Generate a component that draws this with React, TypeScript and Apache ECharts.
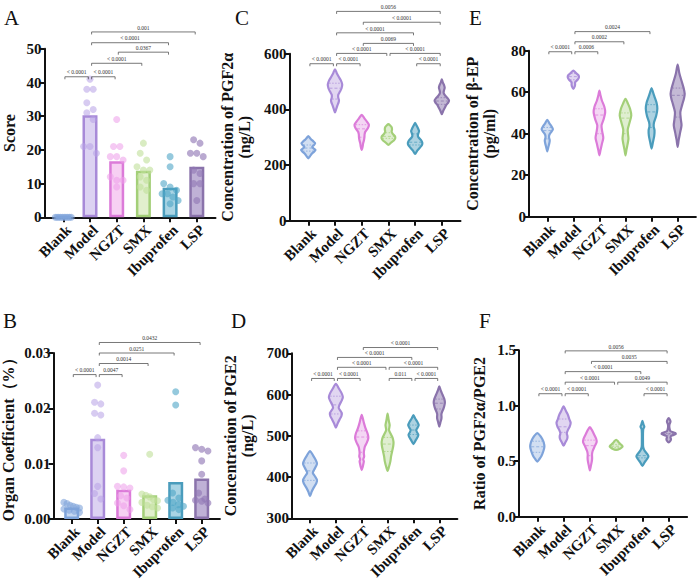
import React, { useEffect, useRef } from "react";
import * as echarts from "echarts";

const groups = ["Blank", "Model", "NGZT", "SMX", "Ibuprofen", "LSP"];

// ---------- Panel A: Score ----------
const scoreMeans = [0, 30.3, 16.6, 13.8, 8.8, 15.0];
const scorePoints = [
  [0, 0, 0, 0, 0, 0, 0, 0, 0, 0],
  [41, 38, 38, 34, 32, 31, 29, 21, 21, 19],
  [29, 21, 21, 18, 18, 17, 12, 11, 11, 9],
  [22, 19, 17, 15, 14, 14, 12, 11, 9, 8],
  [18, 15, 10, 9, 8, 7, 7, 6, 5, 4],
  [23, 22, 19, 19, 18, 14, 13, 10, 10, 5],
];
const scoreBrackets = [[0, 1, 41.7], [1, 2, 41.7], [1, 3, 45.7], [2, 4, 49.0], [1, 4, 51.8], [1, 5, 55.0]];
const scoreBracketLabels = ["< 0.0001", "< 0.0001", "< 0.0001", "0.0367", "< 0.0001", "0.001"];

// ---------- Panel B: Organ coefficient ----------
const organMeans = [0.0021, 0.0145, 0.0053, 0.0043, 0.0067, 0.0073];
const organPoints = [
  [0.003, 0.0028, 0.0025, 0.0023, 0.0021, 0.002, 0.0018, 0.0016, 0.0014, 0.0012],
  [0.0242, 0.0211, 0.0208, 0.0191, 0.0188, 0.0147, 0.0129, 0.0059, 0.0046, 0.0036],
  [0.0115, 0.0087, 0.0059, 0.0058, 0.0056, 0.0042, 0.0038, 0.0029, 0.0024, 0.0017],
  [0.0117, 0.0045, 0.0043, 0.004, 0.0035, 0.0033, 0.003, 0.0025, 0.0022, 0.002],
  [0.023, 0.0206, 0.0047, 0.0038, 0.0034, 0.003, 0.0026, 0.0023, 0.002, 0.0017],
  [0.0129, 0.0126, 0.0123, 0.0105, 0.0081, 0.0047, 0.0036, 0.0034, 0.0032, 0.0029],
];
const organBrackets = [[0, 1, 0.0261], [1, 2, 0.0261], [1, 3, 0.0281], [1, 4, 0.03], [1, 5, 0.0319]];
const organBracketLabels = ["< 0.0001", "0.0047", "0.0014", "0.0251", "0.0432"];

// ---------- Panel C: PGF2α (violin profiles: [value, relative density]) ----------
const pgf2aProfiles = [
  [[224, 0], [232, 0.25], [240, 0.45], [248, 0.8], [254, 1.0], [260, 0.7], [266, 0.55], [272, 0.8], [278, 0.95], [285, 0.7], [292, 0.4], [298, 0.2], [304, 0]],
  [[389, 0], [400, 0.15], [415, 0.35], [425, 0.5], [433, 0.55], [442, 0.45], [452, 0.45], [462, 0.65], [475, 0.9], [490, 1.0], [505, 0.8], [518, 0.5], [530, 0.25], [544, 0]],
  [[254, 0], [265, 0.12], [278, 0.2], [290, 0.32], [300, 0.38], [310, 0.4], [320, 0.5], [332, 0.85], [344, 1.0], [355, 0.75], [367, 0.4], [380, 0]],
  [[272, 0], [280, 0.35], [288, 0.75], [296, 0.95], [304, 0.9], [312, 0.6], [320, 0.45], [328, 0.5], [336, 0.45], [342, 0.25], [347, 0]],
  [[240, 0], [252, 0.3], [262, 0.65], [272, 0.95], [280, 1.0], [290, 0.8], [300, 0.45], [306, 0.38], [314, 0.45], [322, 0.55], [332, 0.4], [342, 0.2], [352, 0]],
  [[383, 0], [395, 0.2], [405, 0.4], [415, 0.6], [425, 0.9], [432, 1.0], [440, 0.8], [450, 0.45], [460, 0.25], [468, 0.3], [478, 0.4], [488, 0.3], [498, 0.12], [508, 0]],
];
const pgf2aQuartiles = [[250, 261, 272], [437, 476, 494], [300, 330, 345], [296, 303, 316], [272, 282, 312], [418, 430, 442]];
const pgf2aBrackets = [[0, 1, 564], [1, 2, 564], [4, 5, 564], [1, 3, 601], [3, 5, 601], [2, 4, 637], [1, 4, 675], [2, 5, 713], [1, 5, 752]];
const pgf2aBracketLabels = ["< 0.0001", "< 0.0001", "< 0.0001", "< 0.0001", "< 0.0001", "0.0069", "< 0.0001", "< 0.0001", "0.0056"];

// ---------- Panel D: PGE2 ----------
const pge2Profiles = [
  [[354, 0], [365, 0.25], [375, 0.55], [385, 0.9], [393, 1.0], [402, 0.7], [410, 0.4], [418, 0.6], [426, 0.85], [433, 1.0], [442, 0.8], [452, 0.45], [463, 0]],
  [[520, 0], [530, 0.25], [540, 0.55], [548, 0.8], [555, 0.85], [562, 0.6], [568, 0.4], [576, 0.55], [586, 0.85], [594, 1.0], [604, 0.8], [614, 0.45], [626, 0]],
  [[417, 0], [425, 0.15], [433, 0.25], [438, 0.3], [443, 0.22], [450, 0.35], [458, 0.3], [466, 0.35], [474, 0.45], [484, 0.75], [495, 0.95], [505, 0.85], [518, 0.55], [532, 0.3], [551, 0]],
  [[415, 0], [425, 0.2], [438, 0.4], [450, 0.5], [462, 0.65], [474, 0.8], [485, 0.85], [496, 0.7], [506, 0.4], [514, 0.2], [520, 0.25], [526, 0.3], [533, 0.22], [542, 0.12], [554, 0]],
  [[480, 0], [490, 0.35], [497, 0.6], [503, 0.7], [509, 0.5], [514, 0.4], [520, 0.6], [526, 0.75], [534, 0.55], [542, 0.25], [550, 0]],
  [[522, 0], [532, 0.15], [541, 0.3], [546, 0.32], [552, 0.3], [558, 0.4], [566, 0.6], [575, 0.75], [582, 0.8], [590, 0.7], [600, 0.45], [610, 0.2], [620, 0]],
];
const pge2Quartiles = [[392, 415, 434], [553, 575, 596], [460, 497, 512], [462, 480, 496], [503, 514, 526], [565, 579, 589]];
const pge2Brackets = [[0, 1, 639], [1, 2, 639], [3, 4, 639], [4, 5, 639], [1, 3, 666], [3, 5, 666], [1, 4, 690], [2, 5, 714]];
const pge2BracketLabels = ["< 0.0001", "< 0.0001", "0.011", "< 0.0001", "< 0.0001", "< 0.0001", "< 0.0001", "< 0.0001"];

// ---------- Panel E: β-EP ----------
const bepProfiles = [
  [[31.5, 0], [33.5, 0.15], [35.5, 0.3], [36.8, 0.35], [38.2, 0.25], [39.5, 0.3], [41, 0.6], [42.2, 0.8], [43.5, 0.6], [45, 0.3], [46.7, 0]],
  [[61.6, 0], [62.8, 0.2], [63.8, 0.25], [64.8, 0.25], [66, 0.6], [67.3, 0.8], [68.3, 0.7], [69.3, 0.35], [70.4, 0]],
  [[29.6, 0], [32, 0.15], [35, 0.35], [38, 0.55], [41, 0.4], [44, 0.3], [47, 0.6], [50.4, 0.82], [53, 0.7], [56, 0.35], [58.5, 0.15], [60.8, 0]],
  [[29.6, 0], [32.5, 0.15], [35, 0.3], [37.6, 0.42], [40, 0.35], [42, 0.32], [45, 0.55], [48.8, 0.82], [52, 0.65], [54.5, 0.35], [56.8, 0]],
  [[32.8, 0], [36, 0.2], [39, 0.38], [41.6, 0.42], [43.5, 0.3], [45.5, 0.35], [48.5, 0.65], [52, 0.82], [55, 0.7], [58, 0.4], [60, 0.2], [62, 0]],
  [[33.6, 0], [37, 0.15], [40.5, 0.35], [44, 0.55], [47, 0.45], [50.4, 0.38], [54, 0.65], [57, 0.9], [59.2, 1.0], [62, 0.85], [65.5, 0.55], [69, 0.25], [73.3, 0]],
];
const bepQuartiles = [[37.5, 41.5, 43], [66, 67.5, 69], [40, 49, 52], [40, 47.5, 50], [43, 50.5, 54], [48, 58.5, 62]];
const bepBrackets = [[0, 1, 79.5], [1, 2, 79.5], [1, 3, 84.3], [1, 4, 89.2]];
const bepBracketLabels = ["< 0.0001", "0.0006", "0.0002", "0.0024"];

// ---------- Panel F: PGF2α/PGE2 ratio ----------
const ratioProfiles = [
  [[0.497, 0], [0.52, 0.3], [0.55, 0.6], [0.59, 0.85], [0.63, 1.0], [0.67, 0.9], [0.7, 0.7], [0.73, 0.4], [0.753, 0]],
  [[0.639, 0], [0.67, 0.25], [0.7, 0.5], [0.725, 0.55], [0.75, 0.45], [0.78, 0.6], [0.81, 0.85], [0.845, 1.0], [0.88, 0.8], [0.92, 0.6], [0.95, 0.35], [0.994, 0]],
  [[0.416, 0], [0.46, 0.15], [0.5, 0.28], [0.53, 0.32], [0.56, 0.3], [0.59, 0.38], [0.63, 0.65], [0.67, 0.95], [0.7, 0.9], [0.74, 0.6], [0.78, 0.3], [0.807, 0]],
  [[0.602, 0], [0.615, 0.6], [0.63, 0.9], [0.64, 0.85], [0.655, 0.6], [0.67, 0.35], [0.68, 0.25], [0.693, 0]],
  [[0.458, 0], [0.49, 0.3], [0.52, 0.65], [0.545, 0.85], [0.57, 0.6], [0.6, 0.25], [0.63, 0.1], [0.68, 0.08], [0.75, 0.08], [0.79, 0.12], [0.81, 0.27], [0.83, 0.15], [0.864, 0]],
  [[0.669, 0], [0.685, 0.25], [0.7, 0.32], [0.715, 0.25], [0.73, 0.4], [0.745, 1.0], [0.755, 0.9], [0.77, 0.25], [0.8, 0.1], [0.83, 0.1], [0.855, 0.25], [0.875, 0.15], [0.889, 0]],
];
const ratioQuartiles = [[0.58, 0.63, 0.68], [0.76, 0.81, 0.88], [0.55, 0.64, 0.69], [0.625, 0.635, 0.65], [0.53, 0.55, 0.62], [0.73, 0.745, 0.75]];
const ratioBrackets = [[0, 1, 1.108], [1, 2, 1.108], [4, 5, 1.108], [1, 3, 1.212], [3, 5, 1.212], [1, 4, 1.307], [2, 5, 1.399], [1, 5, 1.494]];
const ratioBracketLabels = ["< 0.0001", "< 0.0001", "< 0.0001", "< 0.0001", "0.0049", "< 0.0001", "0.0035", "0.0056"];

// ---------- Styles ----------
const strokeColors = ["#7ea3da", "#a88ad8", "#dc7bd9", "#a3cf78", "#4a9cbc", "#8a73ab"];
const violinFills = [
  "rgba(126,163,218,0.35)",
  "rgba(168,138,216,0.35)",
  "rgba(220,123,217,0.3)",
  "rgba(163,207,120,0.35)",
  "rgba(74,156,188,0.45)",
  "rgba(138,115,171,0.5)",
];
const barFills = ["#c6d8f2", "#dcd2f2", "#f7d0f3", "#e1efcd", "#a9d4e4", "#bfb1d6"];
const pointColors = [
  "rgba(126,163,218,0.75)",
  "rgba(184,162,230,0.7)",
  "rgba(238,158,234,0.7)",
  "rgba(191,224,154,0.75)",
  "rgba(79,165,198,0.75)",
  "rgba(145,121,181,0.8)",
];
const SERIF = '"Liberation Serif", "Times New Roman", serif';
const INK = "#111";

function spreadOffsets(vals: number[], thr: number, step: number): number[] {
  const n = vals.length;
  const order = vals.map((_, i) => i).sort((a, b) => vals[b] - vals[a]);
  const off = new Array(n).fill(0);
  let k = 0;
  while (k < n) {
    let j = k;
    while (j + 1 < n && Math.abs(vals[order[j + 1]] - vals[order[k]]) <= thr) j++;
    const m = j - k + 1;
    const s = m > 1 ? Math.min(step, 0.6 / (m - 1)) : 0;
    for (let t = 0; t < m; t++) off[order[k + t]] = (t - (m - 1) / 2) * s;
    k = j + 1;
  }
  return off;
}

function densAt(prof: number[][], v: number): number {
  for (let k = 0; k < prof.length - 1; k++) {
    const [a, da] = prof[k];
    const [b, db] = prof[k + 1];
    if (v >= a && v <= b) return da + ((db - da) * (v - a)) / (b - a);
  }
  return 0;
}

function xAxis(gridIndex: number) {
  return {
    type: "value",
    gridIndex,
    min: -0.7,
    max: 5.7,
    axisLine: { show: true, onZero: false, lineStyle: { color: INK, width: 2 } },
    axisTick: { show: true, customValues: [0, 1, 2, 3, 4, 5], length: 5, lineStyle: { color: INK, width: 2 } },
    axisLabel: {
      show: true,
      customValues: [0, 1, 2, 3, 4, 5],
      formatter: (v: number) => groups[Math.round(v)],
      rotate: 45,
      align: "right",
      verticalAlign: "top",
      fontFamily: SERIF,
      fontWeight: "bold",
      fontSize: 15,
      color: INK,
      margin: 5,
    },
    splitLine: { show: false },
  };
}

function yAxis(gridIndex: number, min: number, max: number, interval: number, name: string, nameGap: number, digits: number) {
  return {
    type: "value",
    gridIndex,
    min,
    max,
    interval,
    name,
    nameLocation: "middle",
    nameGap,
    nameTextStyle: { fontFamily: SERIF, fontWeight: "bold", fontSize: 16, color: INK, lineHeight: 17 },
    axisLine: { show: true, onZero: false, lineStyle: { color: INK, width: 2 } },
    axisTick: { show: true, length: 5, lineStyle: { color: INK, width: 2 } },
    axisLabel: {
      fontFamily: SERIF,
      fontWeight: "bold",
      fontSize: 15,
      color: INK,
      margin: 3,
      formatter: (v: number) => (digits > 0 ? v.toFixed(digits) : String(v)),
    },
    splitLine: { show: false },
  };
}

function bracketSeries(idx: number, brackets: number[][], labels: string[]) {
  return {
    type: "custom",
    xAxisIndex: idx,
    yAxisIndex: idx,
    clip: false,
    silent: true,
    z: 5,
    data: brackets,
    encode: { x: [0, 1], y: 2 },
    renderItem: (params: any, api: any) => {
      const a = api.coord([api.value(0), api.value(2)]);
      const b = api.coord([api.value(1), api.value(2)]);
      const x1 = a[0] + 1.6;
      const x2 = b[0] - 1.6;
      const y = a[1];
      return {
        type: "group",
        children: [
          {
            type: "polyline",
            shape: { points: [[x1, y + 2.5], [x1, y], [x2, y], [x2, y + 2.5]] },
            style: { stroke: "#555", lineWidth: 0.8, fill: null },
          },
          {
            type: "text",
            x: (x1 + x2) / 2,
            y: y - 1.3,
            style: {
              text: labels[params.dataIndex],
              fontSize: 5.5,
              fontFamily: SERIF,
              fill: "#333",
              align: "center",
              verticalAlign: "bottom",
            },
          },
        ],
      };
    },
  };
}

function violinSeries(idx: number, profiles: number[][][], quartiles: number[][]) {
  return {
    type: "custom",
    xAxisIndex: idx,
    yAxisIndex: idx,
    clip: false,
    silent: true,
    z: 3,
    data: groups.map((_, i) => [i, quartiles[i][1]]),
    encode: { x: 0, y: 1 },
    renderItem: (params: any, api: any) => {
      const i = params.dataIndex;
      const prof = profiles[i];
      const cx = api.coord([i, prof[0][0]])[0];
      const unit = api.coord([i + 1, prof[0][0]])[0] - cx;
      const hw = 0.27 * unit;
      const right = prof.map(([v, d]) => [cx + d * hw, api.coord([i, v])[1]]);
      const left = prof
        .slice(1, prof.length - 1)
        .reverse()
        .map(([v, d]) => [cx - d * hw, api.coord([i, v])[1]]);
      const children: any[] = [
        {
          type: "polygon",
          shape: { points: right.concat(left), smooth: 0.25 },
          style: { fill: violinFills[i], stroke: strokeColors[i], lineWidth: 2.2, lineJoin: "round" },
        },
      ];
      quartiles[i].forEach((q, k) => {
        const d = densAt(prof, q) * hw;
        const y = api.coord([i, q])[1];
        children.push({
          type: "line",
          shape: { x1: cx - d + 1, y1: y, x2: cx + d - 1, y2: y },
          style: { stroke: strokeColors[i], lineWidth: 0.8, lineDash: k === 1 ? [3, 2] : [1.5, 1.5], opacity: 0.9 },
        });
      });
      return { type: "group", children };
    },
  };
}

function barSeries(idx: number, means: number[], barWidth: number) {
  return {
    type: "bar",
    xAxisIndex: idx,
    yAxisIndex: idx,
    barWidth,
    z: 2,
    silent: true,
    data: means.map((m, i) => ({
      value: [i, m],
      itemStyle: { color: barFills[i], borderColor: strokeColors[i], borderWidth: 2.5 },
    })),
  };
}

function pointSeries(idx: number, pts: number[][], thr: number) {
  const data: any[] = [];
  pts.forEach((vals, i) => {
    const off = spreadOffsets(vals, thr, 0.24);
    vals.forEach((v, k) => {
      data.push({ value: [i + off[k], v], itemStyle: { color: pointColors[i] } });
    });
  });
  return {
    type: "scatter",
    xAxisIndex: idx,
    yAxisIndex: idx,
    symbolSize: 7,
    clip: false,
    silent: true,
    z: 4,
    data,
  };
}

function letter(t: string, x: number, y: number) {
  return {
    type: "text",
    x,
    y,
    style: { text: t, fontFamily: SERIF, fontSize: 21, fill: INK, verticalAlign: "top", align: "left" },
  };
}

export default function App() {
  const ref = useRef<HTMLDivElement>(null);
  useEffect(() => {
    document.body.style.margin = "0";
    const chart = echarts.init(ref.current!, null, { renderer: "svg" });
    const grids = [
      { left: 44.6, top: 48.8, width: 170.9, height: 168.5 },
      { left: 53.5, top: 353, width: 166.4, height: 166 },
      { left: 289.6, top: 53.7, width: 170.9, height: 167 },
      { left: 291.9, top: 353.3, width: 165.5, height: 165 },
      { left: 529, top: 50.7, width: 166.9, height: 166 },
      { left: 518.9, top: 350.2, width: 168.2, height: 166.5 },
    ].map((g) => ({ ...g, containLabel: false, outerBoundsMode: "none" }));
    const option: any = {
      animation: false,
      backgroundColor: "#ffffff",
      grid: grids,
      xAxis: [0, 1, 2, 3, 4, 5].map((i) => xAxis(i)),
      yAxis: [
        yAxis(0, 0, 50, 10, "Score", 27, 0),
        yAxis(1, 0, 0.03, 0.01, "Organ Coefficient（%）", 37, 2),
        yAxis(2, 0, 600, 200, "Concentration of PGF2α\n(ng/L)", 37, 0),
        yAxis(3, 300, 700, 100, "Concentration of PGE2\n(ng/L)", 36, 0),
        yAxis(4, 0, 80, 20, "Concentration of β-EP\n(pg/ml)", 31, 0),
        yAxis(5, 0, 1.5, 0.5, "Ratio of PGF2α/PGE2", 31, 1),
      ],
      series: [
        barSeries(0, scoreMeans, 15),
        pointSeries(0, scorePoints, 2.2),
        bracketSeries(0, scoreBrackets, scoreBracketLabels),
        barSeries(1, organMeans, 15),
        pointSeries(1, organPoints, 0.0012),
        bracketSeries(1, organBrackets, organBracketLabels),
        violinSeries(2, pgf2aProfiles, pgf2aQuartiles),
        bracketSeries(2, pgf2aBrackets, pgf2aBracketLabels),
        violinSeries(3, pge2Profiles, pge2Quartiles),
        bracketSeries(3, pge2Brackets, pge2BracketLabels),
        violinSeries(4, bepProfiles, bepQuartiles),
        bracketSeries(4, bepBrackets, bepBracketLabels),
        violinSeries(5, ratioProfiles, ratioQuartiles),
        bracketSeries(5, ratioBrackets, ratioBracketLabels),
      ],
      graphic: [
        letter("A", 4, 7),
        letter("B", 3, 310),
        letter("C", 235, 7),
        letter("D", 231, 310),
        letter("E", 469, 7),
        letter("F", 479, 310),
      ],
    };
    chart.setOption(option);
    return () => chart.dispose();
  }, []);
  return <div ref={ref} style={{ width: 700, height: 582 }} />;
}
